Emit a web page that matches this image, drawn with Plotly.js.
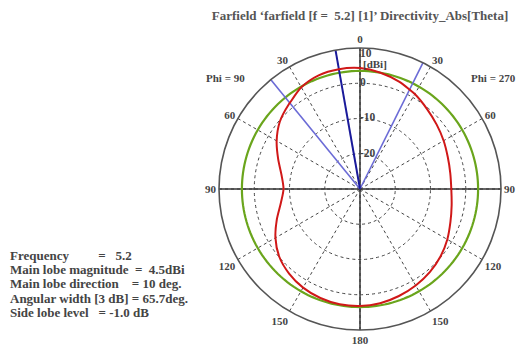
<!DOCTYPE html>
<html>
<head>
<meta charset="utf-8">
<script src="https://cdn.plot.ly/plotly-3.0.1.min.js"></script>
<style>html,body{margin:0;padding:0;background:#fff;}#chart{width:523px;height:347px;}</style>
</head>
<body>
<div id="chart"></div>
<script>
// Directivity pattern (dBi); theta measured clockwise from top (0..360)
// right half = Phi 270 side, left half (theta>180) = Phi 90 side
const patternTheta = [0,10,20,26.5,30,40,50,60,70,80,90,100,110,120,130,140,150,160,170,180,
                      190,200,210,220,230,240,250,260,270,280,290,300,310,320,320.8,330,340,350,360];
const patternDBi   = [4.3,3.5,2.4,1.5,1.1,-0.4,-1.6,-2.6,-3.5,-4.0,-4.1,-3.6,-2.7,-1.4,-0.2,0.8,1.6,2.3,2.9,3.2,
                      3.2,2.9,2.3,1.3,-0.1,-2.3,-4.9,-7.2,-8.3,-7.4,-5.3,-2.7,-0.3,1.4,1.5,3.3,4.3,4.5,4.3];
const refLevelDBi = 3.5;          // green reference circle
const mainLobeDir = 350;          // 10 deg on Phi=90 side
const beamEdges = [320.8, 26.5];  // 3 dB beam edges
const radialMin = -30, radialMax = 10;
const radialTicks = [-20, -10, 0, 10];
const radialTickText = ['-20', '-10', '0', '10'];
const angleTicks = [0,30,60,90,120,150,180,210,240,270,300,330];
const angleTickText = ['0','30','60','90','120','150','180','150','120','90','60','30'];
const axisCrossTheta = [0, 90];

const infoLines = [
  'Frequency\u00a0\u00a0\u00a0\u00a0\u00a0\u00a0\u00a0\u00a0\u00a0=\u00a0\u00a0\u00a05.2',
  'Main lobe magnitude\u00a0\u00a0=\u00a0\u00a04.5dBi',
  'Main lobe direction\u00a0\u00a0\u00a0\u00a0= 10 deg.',
  'Angular width [3 dB] = 65.7deg.',
  'Side lobe level\u00a0\u00a0\u00a0= -1.0 dB'
];

const serif = 'Liberation Serif, Times New Roman, serif';
const txtCol = '#444';
const traces = [];

// solid cross axes
axisCrossTheta.forEach(t => {
  traces.push({type:'scatterpolar', mode:'lines', r:[radialMax, radialMin, radialMax], theta:[t, t, t+180],
    line:{color:'#333', width:1.5}, hoverinfo:'skip', showlegend:false});
});
// green reference circle
const circTheta = [];
for (let a = 0; a <= 360; a += 2) circTheta.push(a);
traces.push({type:'scatterpolar', mode:'lines', r:circTheta.map(()=>refLevelDBi), theta:circTheta,
  line:{color:'#6aa51c', width:2.2}, showlegend:false});
// beam edge lines
beamEdges.forEach(t => {
  traces.push({type:'scatterpolar', mode:'lines', r:[radialMin, radialMax], theta:[t, t],
    line:{color:'#6b6bd6', width:1.6}, showlegend:false});
});
// main lobe direction
traces.push({type:'scatterpolar', mode:'lines', r:[radialMin, radialMax], theta:[mainLobeDir, mainLobeDir],
  line:{color:'#1a1a9a', width:2}, showlegend:false});
// pattern
traces.push({type:'scatterpolar', mode:'lines', r:patternDBi, theta:patternTheta,
  line:{color:'#d01818', width:2, shape:'spline', smoothing:0.8}, showlegend:false});
// radial tick labels (drawn as text on the radial scale)
traces.push({type:'scatterpolar', mode:'text', r:radialTicks, theta:radialTicks.map(()=>0),
  text:radialTickText.map(s=>'<b>'+s+'</b>'),
  textposition:['middle right','middle right','middle right','bottom right'],
  textfont:{family:serif, size:11.5, color:txtCol}, showlegend:false, hoverinfo:'skip'});

const W = 523, H = 347, cx = 360, cy = 189, R = 141;
const annotations = infoLines.map((s, i) => ({
  xref:'paper', yref:'paper', x:8/W, y:1 - (255 + i*14.4)/H, xanchor:'left', yanchor:'middle',
  text:'<b>'+s+'</b>', showarrow:false, font:{family:serif, size:13, color:txtCol}
}));
annotations.push({xref:'paper', yref:'paper', x:225/W, y:1-78/H, xanchor:'center', yanchor:'middle',
  text:'<b>Phi = 90</b>', showarrow:false, font:{family:serif, size:11, color:txtCol}});
annotations.push({xref:'paper', yref:'paper', x:493/W, y:1-78/H, xanchor:'center', yanchor:'middle',
  text:'<b>Phi = 270</b>', showarrow:false, font:{family:serif, size:11, color:txtCol}});
annotations.push({xref:'paper', yref:'paper', x:361/W, y:1-64/H, xanchor:'left', yanchor:'middle',
  text:'<b>[dBi]</b>', showarrow:false, font:{family:serif, size:11, color:txtCol}});

const layout = {
  width:W, height:H, margin:{l:0, r:0, t:0, b:0}, paper_bgcolor:'#fff', showlegend:false,
  title:{text:'<b>Farfield \u2018farfield [f =  5.2] [1]\u2019 Directivity_Abs[Theta]</b>',
    x:cx/W, xanchor:'center', y:1-15/H, yanchor:'middle', yref:'container',
    font:{family:serif, size:13, color:'#555'}},
  polar:{
    domain:{x:[(cx-R)/W, (cx+R)/W], y:[(H-cy-R)/H, (H-cy+R)/H]},
    bgcolor:'#fff',
    angularaxis:{rotation:90, direction:'clockwise', tickmode:'array', tickvals:angleTicks,
      ticktext:angleTickText.map(s=>'<b>'+s+'</b>'),
      showline:true, linecolor:'#555', linewidth:1.6, ticks:'', showgrid:true, gridcolor:'#444', griddash:'dot', gridwidth:1,
      tickfont:{family:serif, size:11, color:txtCol}},
    radialaxis:{range:[radialMin, radialMax], angle:90, tickmode:'array', tickvals:radialTicks,
      showticklabels:false, showline:false, ticks:'', showgrid:true, gridcolor:'#444', griddash:'dot', gridwidth:1}
  },
  annotations:annotations
};
Plotly.newPlot('chart', traces, layout, {displayModeBar:false, staticPlot:true});
</script>
</body>
</html>
